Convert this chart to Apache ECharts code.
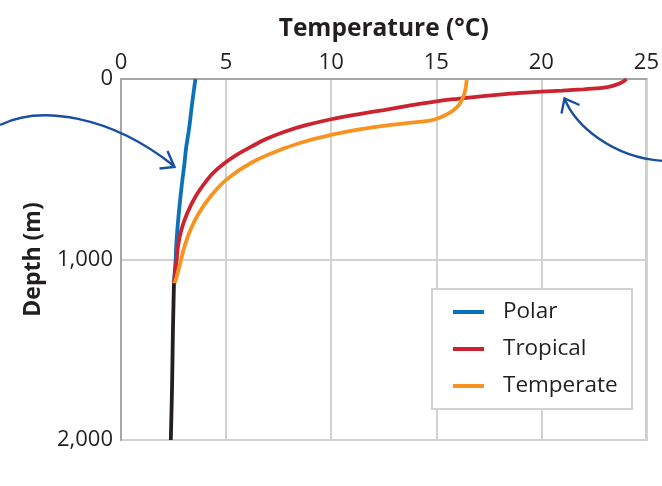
<!DOCTYPE html>
<html>
<head>
<meta charset="utf-8">
<script src="https://cdn.jsdelivr.net/npm/echarts@6/dist/echarts.min.js"></script>
<style>
html,body{margin:0;padding:0;background:#fff;}
#chart{width:662px;height:486px;}
</style>
</head>
<body>
<div id="chart"></div>
<script>
// Temperature (°C) vs depth (m) profiles
var seriesNames = ['Polar', 'Tropical', 'Temperate'];
var xTicks = [0, 5, 10, 15, 20, 25];
var yTickValues = [0, 1000, 2000];
var yTickLabels = ['0', '1,000', '2,000'];

var polarTemp  = [3.54, 3.38, 3.23, 3.10, 3.02, 2.92, 2.83, 2.75, 2.68, 2.63, 2.60, 2.55, 2.52];
var polarDepth = [0, 140, 283, 380, 467, 560, 652, 744, 837, 920, 1000, 1080, 1132];

var tropicalTemp  = [24.05, 23.95, 23.75, 23.4, 22.9, 22.0, 21.0, 20.0, 18.5, 17.35, 16.0, 15.0, 13.7, 12.5, 11.2, 10.0, 8.8, 7.78, 6.9, 6.2, 5.5, 5.0, 4.5, 4.09, 3.54, 3.15, 2.87, 2.71, 2.65, 2.55, 2.52];
var tropicalDepth = [0, 10, 24, 38, 49, 57, 64, 70, 81, 94, 110, 124, 148, 172, 197, 223, 256, 292, 333, 375, 420, 460, 508, 560, 652, 744, 837, 929, 1000, 1095, 1132];

var temperateTemp  = [16.45, 16.4, 16.3, 16.1, 15.8, 15.45, 15.0, 14.6, 13.5, 12.5, 11.2, 10.0, 8.8, 7.78, 6.2, 5.03, 4.25, 3.7, 3.3, 3.02, 2.86, 2.65, 2.55];
var temperateDepth = [0, 50, 95, 140, 175, 199, 222, 232, 246, 260, 282, 310, 345, 384, 464, 556, 652, 744, 837, 929, 1000, 1095, 1132];

var deepTemp  = [2.52, 2.47, 2.43, 2.37];
var deepDepth = [1132, 1400, 1700, 2000];

var colors = ['#0b72ba', '#cb2430', '#f7931e', '#231f20'];

function pairs(t, d) { return t.map(function (v, i) { return [v, d[i]]; }); }

var FONT = 'Open Sans';
var TXT = '#231f20';
var chart = echarts.init(document.getElementById('chart'), null, {renderer: 'canvas'});

function mkSeries(name, t, d, c, z) {
  return {
    name: name, type: 'line', data: pairs(t, d), showSymbol: false, symbol: 'none',
    smooth: 0.4, color: c, z: z,
    lineStyle: {color: c, width: 3.8}, emphasis: {disabled: true}
  };
}

chart.setOption({
  animation: false,
  grid: {left: 121, right: 9, top: 79, bottom: 46, show: true, borderColor: '#a6a6a6', borderWidth: 2},
  xAxis: {
    type: 'value', position: 'top', min: xTicks[0], max: xTicks[xTicks.length - 1], interval: 5,
    name: 'Temperature (°C)', nameLocation: 'middle', nameGap: 37,
    nameTextStyle: {fontFamily: FONT, fontWeight: 'bold', fontSize: 24.5, color: TXT},
    axisLine: {show: true, lineStyle: {color: '#a6a6a6', width: 2}},
    axisTick: {show: false},
    axisLabel: {fontFamily: FONT, fontSize: 22, color: TXT, margin: 5},
    splitLine: {show: true, lineStyle: {color: '#d2d2d2', width: 2}}
  },
  yAxis: {
    type: 'value', inverse: true, min: yTickValues[0], max: yTickValues[yTickValues.length - 1], interval: 1000,
    name: 'Depth (m)', nameLocation: 'middle', nameGap: 76, nameRotate: 90,
    nameTextStyle: {fontFamily: FONT, fontWeight: 'bold', fontSize: 23, color: TXT},
    axisLine: {show: true, lineStyle: {color: '#a6a6a6', width: 2}},
    axisTick: {show: false},
    axisLabel: {fontFamily: FONT, fontSize: 22, color: TXT, margin: 8,
      formatter: function (v) { var i = yTickValues.indexOf(v); return i >= 0 ? yTickLabels[i] : ''; }},
    splitLine: {show: true, lineStyle: {color: '#d2d2d2', width: 2}}
  },
  legend: {
    data: seriesNames, orient: 'vertical', left: 453, top: 299, padding: 0,
    icon: 'rect', itemWidth: 31, itemHeight: 4, itemGap: 11, z: 10,
    textStyle: {fontFamily: FONT, fontSize: 22.5, color: TXT, lineHeight: 26, padding: [0, 0, 0, 14]},
    selectedMode: false
  },
  graphic: [
    {type: 'rect', z: 5, shape: {x: 432, y: 289, width: 200, height: 120},
      style: {fill: '#fff', stroke: '#d2d2d2', lineWidth: 2}},
    {type: 'bezierCurve', z: 6, shape: {x1: 0, y1: 125, cpx1: 40, cpy1: 105, cpx2: 110, cpy2: 115, x2: 174, y2: 166},
      style: {stroke: '#1a4fa0', lineWidth: 2.4, fill: null}},
    {type: 'polyline', z: 6, shape: {points: [[167.5, 151], [174.5, 167], [159.5, 168.5]]},
      style: {stroke: '#1a4fa0', lineWidth: 2.4, fill: null}},
    {type: 'bezierCurve', z: 6, shape: {x1: 564.5, y1: 98.5, cpx1: 575, cpy1: 125, cpx2: 612, cpy2: 158, x2: 664, y2: 161},
      style: {stroke: '#1a4fa0', lineWidth: 2.4, fill: null}},
    {type: 'polyline', z: 6, shape: {points: [[561.5, 113.5], [564.5, 98.5], [579.5, 105]]},
      style: {stroke: '#1a4fa0', lineWidth: 2.4, fill: null}}
  ],
  series: [
    mkSeries(seriesNames[0], polarTemp, polarDepth, colors[0], 3),
    mkSeries(seriesNames[1], tropicalTemp, tropicalDepth, colors[1], 3),
    mkSeries(seriesNames[2], temperateTemp, temperateDepth, colors[2], 3),
    mkSeries('Deep', deepTemp, deepDepth, colors[3], 4)
  ]
});
</script>
</body>
</html>
